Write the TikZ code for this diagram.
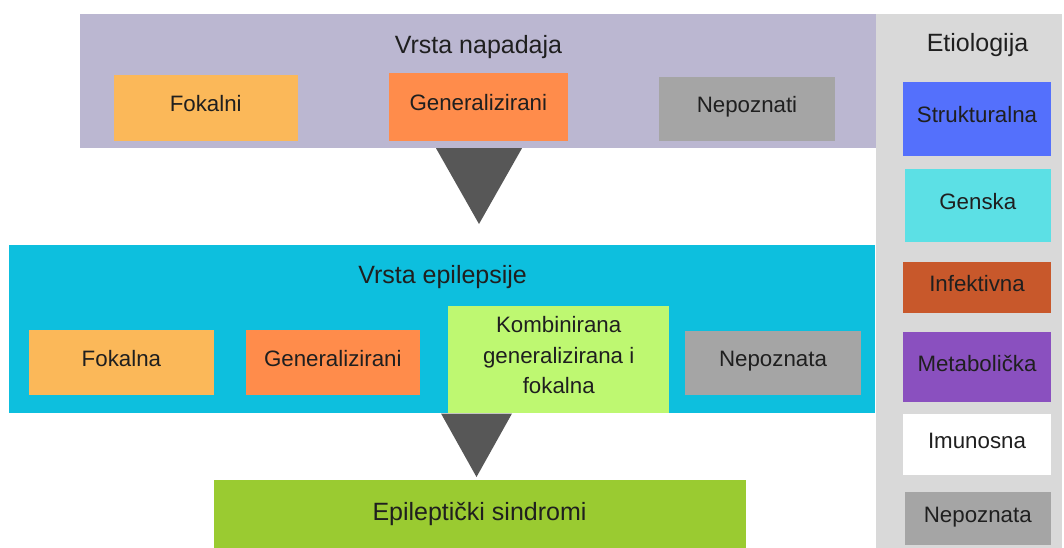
\documentclass[tikz,border=0pt]{standalone}
\usepackage{fontspec}
\setmainfont{Liberation Sans}
\usepackage{tikz}

\definecolor{napadbg}{HTML}{BBB7D1}
\definecolor{epilbg}{HTML}{0DBFDE}
\definecolor{etiobg}{HTML}{D9D9D9}
\definecolor{fokal}{HTML}{FBB859}
\definecolor{gener}{HTML}{FF8C4B}
\definecolor{nepoz}{HTML}{A5A5A5}
\definecolor{kombi}{HTML}{BEF871}
\definecolor{sindr}{HTML}{9ACB31}
\definecolor{strukt}{HTML}{5470FC}
\definecolor{genska}{HTML}{5CE0E5}
\definecolor{infekt}{HTML}{C8582B}
\definecolor{metab}{HTML}{8A50BF}
\definecolor{trigray}{HTML}{575757}

\begin{document}
\begin{tikzpicture}[x=1pt,y=-1pt,
    every node/.style={rectangle,inner sep=0pt,text=black!88},
    cell/.style={font=\fontsize{22.3}{27}\selectfont,text height=16pt,text depth=8pt},
    title/.style={font=\fontsize{25}{30}\selectfont,anchor=base},
    tri/.style={fill=trigray}
]
\useasboundingbox (0,0) rectangle (1064,548);

% background bands
\node[fill=napadbg,minimum width=796,minimum height=134] (napad) at (478,81) {};
\node[fill=etiobg,minimum width=186,minimum height=534] (etio) at (969,281) {};
\node[fill=epilbg,minimum width=866,minimum height=168] (epil) at (442.3,329.3) {};

\node[title] (tnapad) at (478.5,53.5) {Vrsta napadaja};
\node[title] (tepil) at (442.6,283.5) {Vrsta epilepsije};
\node[title] (tetio) at (977.5,52) {Etiologija};

% vrsta napadaja
\node[cell,fill=fokal,minimum width=184,minimum height=66] (nfok) at (205.7,108) {Fokalni};
\node[cell,fill=gener,minimum width=178.5,minimum height=68.3] (ngen) at (478.3,106.9) {Generalizirani};
\node[cell,fill=nepoz,minimum width=176,minimum height=64] (nnep) at (747,109) {Nepoznati};

% vrsta epilepsije
\node[cell,fill=fokal,minimum width=184.7,minimum height=65] (efok) at (121.4,362.5) {Fokalna};
\node[cell,fill=gener,minimum width=174.5,minimum height=65] (egen) at (332.8,362.5) {Generalizirani};
\node[fill=kombi,minimum width=221.3,minimum height=107.5,align=center,
    font=\fontsize{22.3}{30.5}\selectfont] (ekom) at (558.7,359.3)
    {Kombinirana\\generalizirana i\\fokalna\rule[-8pt]{0pt}{8pt}};
\node[cell,fill=nepoz,minimum width=176,minimum height=64] (enep) at (773,362.5) {Nepoznata};

\node[fill=sindr,minimum width=532,minimum height=68,font=\fontsize{25}{30}\selectfont,
    text height=18pt,text depth=5pt] (sindr) at (479.5,514) {Epileptički sindromi};

% etiologija
\node[cell,fill=strukt,minimum width=148,minimum height=74] (etstruk) at (977,118.7) {Strukturalna};
\node[cell,fill=genska,minimum width=146.5,minimum height=73.3] (etgen) at (977.8,205.7) {Genska};
\node[cell,fill=infekt,minimum width=148,minimum height=51] (etinf) at (977,287.8) {Infektivna};
\node[cell,fill=metab,minimum width=148,minimum height=70] (etmet) at (977,367.3) {Metabolička};
\node[cell,fill=white,minimum width=148,minimum height=61] (etimu) at (977,444.5) {Imunosna};
\node[cell,fill=nepoz,minimum width=146.5,minimum height=53.3] (etnep) at (977.8,518.3) {Nepoznata};

% arrows between levels
\coordinate (tip1) at (479,224);
\coordinate (tip2) at (476.5,477);
\fill[tri] ([xshift=-43pt]tip1 |- napad.south) -- ([xshift=43pt]tip1 |- napad.south) -- (tip1) -- cycle;
\fill[tri] ([xshift=-35.5pt]tip2 |- epil.south) -- ([xshift=35.5pt]tip2 |- epil.south) -- (tip2) -- cycle;
\end{tikzpicture}
\end{document}
